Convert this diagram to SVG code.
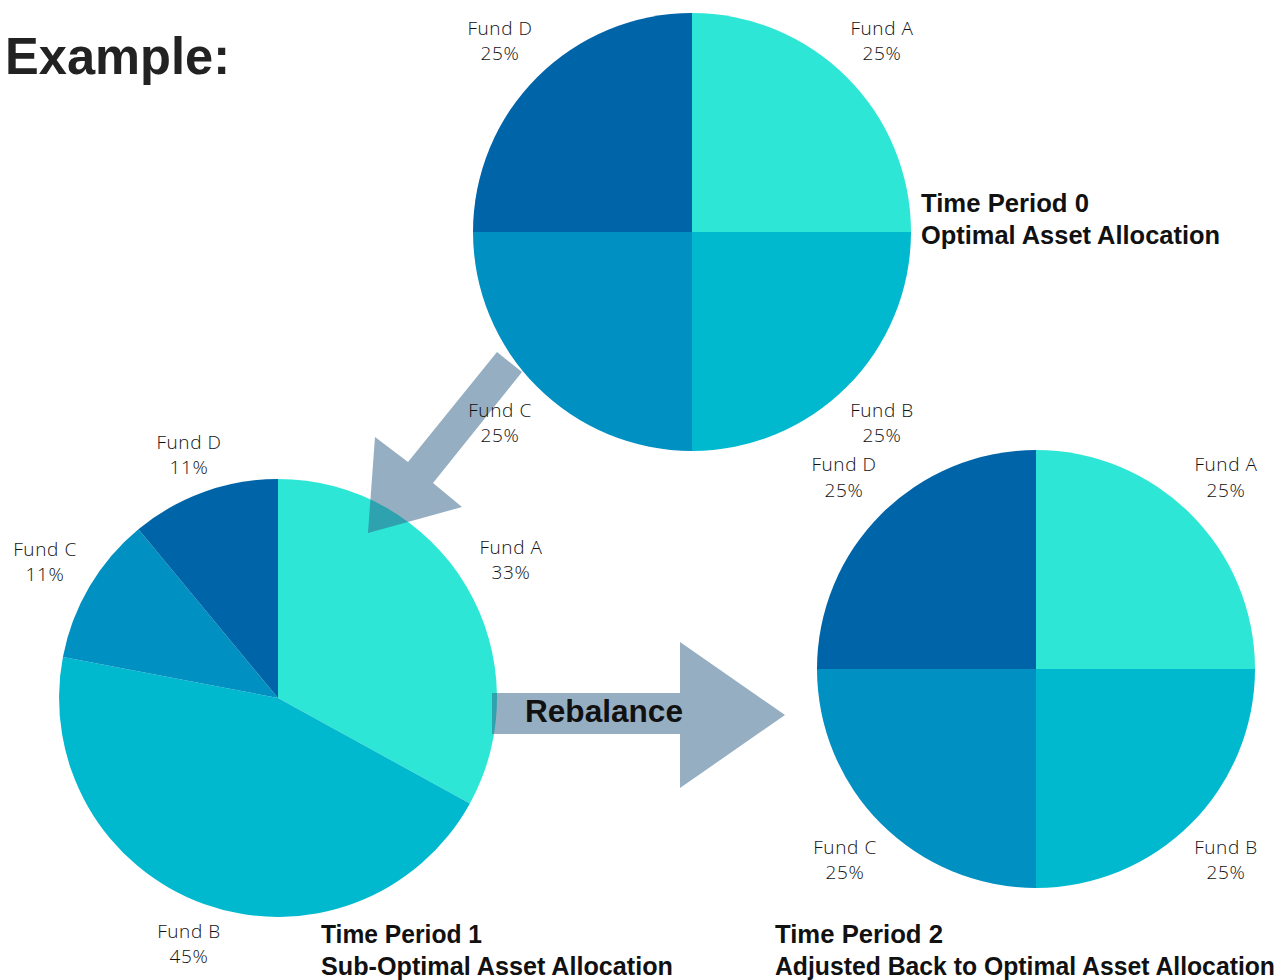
<svg xmlns="http://www.w3.org/2000/svg" width="1285" height="980" viewBox="0 0 1285 980">
<style>
.a{fill:#2EE6D6}.b{fill:#00B9CF}.c{fill:#0090C1}.d{fill:#0064A8}
.lbl{font-family:"Open Sans","Liberation Sans",sans-serif;font-weight:300;font-size:19px;letter-spacing:0.6px;fill:#111;text-anchor:middle}
.ttl{font-family:"Liberation Sans",Arial,sans-serif;font-weight:bold;font-size:25px;fill:#111}
.arr{fill:#2E5D86;fill-opacity:0.5}
</style>
<rect width="1285" height="980" fill="#fff"/>
<text x="5" y="74" font-family="Liberation Sans, Arial, sans-serif" font-weight="bold" font-size="52" fill="#222" textLength="225" lengthAdjust="spacingAndGlyphs">Example:</text>

<g id="pie-period1">
<path class="a" d="M278,698 L278,479 A219,219 0 0 1 469.9,803.5 Z"/>
<path class="b" d="M278,698 L469.9,803.5 A219,219 0 0 1 62.9,657 Z"/>
<path class="c" d="M278,698 L62.9,657 A219,219 0 0 1 138.4,529.3 Z"/>
<path class="d" d="M278,698 L138.4,529.3 A219,219 0 0 1 278,479 Z"/>
<text class="lbl" x="189" y="449">Fund D</text><text class="lbl" x="189" y="474">11%</text>
<text class="lbl" x="45" y="556">Fund C</text><text class="lbl" x="45" y="581">11%</text>
<text class="lbl" x="511" y="554">Fund A</text><text class="lbl" x="511" y="579">33%</text>
<text class="lbl" x="189" y="938">Fund B</text><text class="lbl" x="189" y="963">45%</text>
<text class="ttl" x="321" y="943" textLength="161" lengthAdjust="spacingAndGlyphs">Time Period 1</text>
<text class="ttl" x="321" y="975" textLength="352" lengthAdjust="spacingAndGlyphs">Sub-Optimal Asset Allocation</text>
</g>

<g id="connectors">
<path id="arrow-down" class="arr" d="M497,352 L522,372 L433,483 L462,507 L368,533 L375,437 L408,462 Z"/>
<g id="arrow-rebalance">
<path class="arr" d="M492,693 L680,693 L680,642 L785,715 L680,788 L680,734 L492,734 Z"/>
<text x="525" y="722" font-family="Liberation Sans, Arial, sans-serif" font-weight="bold" font-size="31.5" fill="#111" textLength="158" lengthAdjust="spacingAndGlyphs">Rebalance</text>
</g>
</g>

<g id="pie-period0">
<path class="a" d="M692,232 L692,13 A219,219 0 0 1 911,232 Z"/>
<path class="b" d="M692,232 L911,232 A219,219 0 0 1 692,451 Z"/>
<path class="c" d="M692,232 L692,451 A219,219 0 0 1 473,232 Z"/>
<path class="d" d="M692,232 L473,232 A219,219 0 0 1 692,13 Z"/>
<text class="lbl" x="500" y="35">Fund D</text><text class="lbl" x="500" y="60">25%</text>
<text class="lbl" x="882" y="35">Fund A</text><text class="lbl" x="882" y="60">25%</text>
<text class="lbl" x="500" y="417">Fund C</text><text class="lbl" x="500" y="442">25%</text>
<text class="lbl" x="882" y="417">Fund B</text><text class="lbl" x="882" y="442">25%</text>
<text class="ttl" x="921" y="212" textLength="168" lengthAdjust="spacingAndGlyphs">Time Period 0</text>
<text class="ttl" x="921" y="244" textLength="299" lengthAdjust="spacingAndGlyphs">Optimal Asset Allocation</text>
</g>

<g id="pie-period2">
<path class="a" d="M1036,669 L1036,450 A219,219 0 0 1 1255,669 Z"/>
<path class="b" d="M1036,669 L1255,669 A219,219 0 0 1 1036,888 Z"/>
<path class="c" d="M1036,669 L1036,888 A219,219 0 0 1 817,669 Z"/>
<path class="d" d="M1036,669 L817,669 A219,219 0 0 1 1036,450 Z"/>
<text class="lbl" x="844" y="471">Fund D</text><text class="lbl" x="844" y="497">25%</text>
<text class="lbl" x="1226" y="471">Fund A</text><text class="lbl" x="1226" y="497">25%</text>
<text class="lbl" x="845" y="854">Fund C</text><text class="lbl" x="845" y="879">25%</text>
<text class="lbl" x="1226" y="854">Fund B</text><text class="lbl" x="1226" y="879">25%</text>
<text class="ttl" x="775" y="943" textLength="168" lengthAdjust="spacingAndGlyphs">Time Period 2</text>
<text class="ttl" x="775" y="975" textLength="500" lengthAdjust="spacingAndGlyphs">Adjusted Back to Optimal Asset Allocation</text>
</g>
</svg>
